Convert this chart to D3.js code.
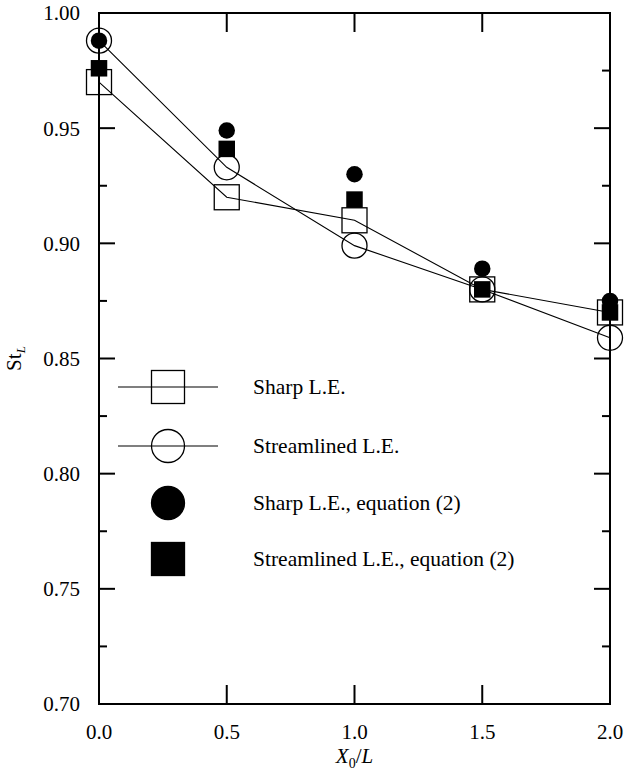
<!DOCTYPE html>
<html>
<head>
<meta charset="utf-8">
<script src="https://cdn.jsdelivr.net/npm/d3@7"></script>
<style>
  body { margin: 0; background: #fff; }
  svg { display: block; font-family: "Liberation Serif", "DejaVu Serif", serif; }
</style>
</head>
<body>
<svg id="chart"></svg>
<script>
// data
const xValues = [0.0, 0.5, 1.0, 1.5, 2.0];
const sharpLE = [0.970, 0.920, 0.910, 0.880, 0.870];
const streamlinedLE = [0.988, 0.933, 0.899, 0.880, 0.859];
const sharpEq2 = [0.988, 0.949, 0.930, 0.889, 0.875];
const streamlinedEq2 = [0.976, 0.941, 0.919, 0.880, 0.870];

const xTicks = [0.0, 0.5, 1.0, 1.5, 2.0];
const yTicks = [0.70, 0.75, 0.80, 0.85, 0.90, 0.95, 1.00];
const yMinorTicks = [0.725, 0.775, 0.825, 0.875, 0.925, 0.975];
const legendLabels = [
  "Sharp L.E.",
  "Streamlined L.E.",
  "Sharp L.E., equation (2)",
  "Streamlined L.E., equation (2)",
];

const width = 626, height = 774;
const margin = { top: 13, right: 16, bottom: 70, left: 99 };
const innerW = width - margin.left - margin.right;
const innerH = height - margin.top - margin.bottom;

const svg = d3.select("#chart").attr("width", width).attr("height", height);
svg.append("rect").attr("width", width).attr("height", height).attr("fill", "#fff");

const chart = svg.append("g").attr("transform", `translate(${margin.left},${margin.top})`);

const x = d3.scaleLinear().domain([0, 2]).range([0, innerW]);
const y = d3.scaleLinear().domain([0.70, 1.00]).range([innerH, 0]);

// ticks (inward on all four sides)
const majorY = 16, minorY = 8, tickX = 19;
const ticks = chart.append("g").attr("stroke", "#000").attr("stroke-width", 2);
yTicks.forEach((v) => {
  ticks.append("line").attr("x1", 0).attr("x2", majorY).attr("y1", y(v)).attr("y2", y(v));
  ticks.append("line").attr("x1", innerW).attr("x2", innerW - majorY).attr("y1", y(v)).attr("y2", y(v));
});
yMinorTicks.forEach((v) => {
  ticks.append("line").attr("x1", 0).attr("x2", minorY).attr("y1", y(v)).attr("y2", y(v));
  ticks.append("line").attr("x1", innerW).attr("x2", innerW - minorY).attr("y1", y(v)).attr("y2", y(v));
});
xTicks.forEach((v) => {
  ticks.append("line").attr("x1", x(v)).attr("x2", x(v)).attr("y1", innerH).attr("y2", innerH - tickX);
  ticks.append("line").attr("x1", x(v)).attr("x2", x(v)).attr("y1", 0).attr("y2", tickX);
});

// tick labels
chart.append("g").selectAll("text").data(yTicks).join("text")
  .attr("x", -19).attr("y", (d) => y(d)).attr("dy", "0.35em")
  .attr("text-anchor", "end").attr("font-size", 21)
  .text((d) => d3.format(".2f")(d));
chart.append("g").selectAll("text").data(xTicks).join("text")
  .attr("x", (d) => x(d)).attr("y", innerH + 35)
  .attr("text-anchor", "middle").attr("font-size", 21)
  .text((d) => d3.format(".1f")(d));

// axis titles
const xTitle = svg.append("text")
  .attr("x", margin.left + innerW / 2).attr("y", 763)
  .attr("text-anchor", "middle").attr("font-size", 21);
xTitle.append("tspan").attr("font-style", "italic").text("X");
xTitle.append("tspan").attr("font-size", 14).attr("dy", 5).text("0");
xTitle.append("tspan").attr("dy", -5).text("/");
xTitle.append("tspan").attr("font-style", "italic").text("L");

const yTitle = svg.append("text")
  .attr("transform", `translate(21,${margin.top + innerH / 2}) rotate(-90)`)
  .attr("text-anchor", "middle").attr("font-size", 21);
yTitle.append("tspan").text("St");
yTitle.append("tspan").attr("font-size", 13).attr("font-style", "italic").attr("dy", 4).text("L");

// connecting lines for measured series
const line = d3.line().x((d, i) => x(xValues[i])).y((d) => y(d));
[sharpLE, streamlinedLE].forEach((s) => {
  chart.append("path").datum(s).attr("d", line)
    .attr("fill", "none").attr("stroke", "#000").attr("stroke-width", 1.1);
});

// open markers
const openSize = 25;
chart.append("g").selectAll("rect").data(sharpLE).join("rect")
  .attr("x", (d, i) => x(xValues[i]) - openSize / 2)
  .attr("y", (d) => y(d) - openSize / 2)
  .attr("width", openSize).attr("height", openSize)
  .attr("fill", "none").attr("stroke", "#000").attr("stroke-width", 1.3);
chart.append("g").selectAll("circle").data(streamlinedLE).join("circle")
  .attr("cx", (d, i) => x(xValues[i])).attr("cy", (d) => y(d)).attr("r", openSize / 2)
  .attr("fill", "none").attr("stroke", "#000").attr("stroke-width", 1.3);

// filled markers (equation 2)
const fillSize = 16.5;
chart.append("g").selectAll("rect").data(streamlinedEq2).join("rect")
  .attr("x", (d, i) => x(xValues[i]) - fillSize / 2)
  .attr("y", (d) => y(d) - fillSize / 2)
  .attr("width", fillSize).attr("height", fillSize).attr("fill", "#000");
chart.append("g").selectAll("circle").data(sharpEq2).join("circle")
  .attr("cx", (d, i) => x(xValues[i])).attr("cy", (d) => y(d)).attr("r", fillSize / 2)
  .attr("fill", "#000");

// frame
chart.append("rect").attr("width", innerW).attr("height", innerH)
  .attr("fill", "none").attr("stroke", "#000").attr("stroke-width", 2);

// legend
const legendRows = [387, 446, 503, 559];
const lgX = 168, lgSize = 33;
const legend = svg.append("g");
legendRows.forEach((ly, i) => {
  if (i < 2) {
    legend.append("line").attr("x1", 118).attr("x2", 218).attr("y1", ly).attr("y2", ly)
      .attr("stroke", "#000").attr("stroke-width", 1.1);
  }
  if (i === 0 || i === 3) {
    legend.append("rect").attr("x", lgX - lgSize / 2).attr("y", ly - lgSize / 2)
      .attr("width", lgSize).attr("height", lgSize)
      .attr("fill", i === 3 ? "#000" : "none").attr("stroke", "#000").attr("stroke-width", 1.3);
  } else {
    legend.append("circle").attr("cx", lgX).attr("cy", ly).attr("r", lgSize / 2)
      .attr("fill", i === 2 ? "#000" : "none").attr("stroke", "#000").attr("stroke-width", 1.3);
  }
  legend.append("text").attr("x", 253).attr("y", ly + 7).attr("font-size", 21.5)
    .text(legendLabels[i]);
});
</script>
</body>
</html>
